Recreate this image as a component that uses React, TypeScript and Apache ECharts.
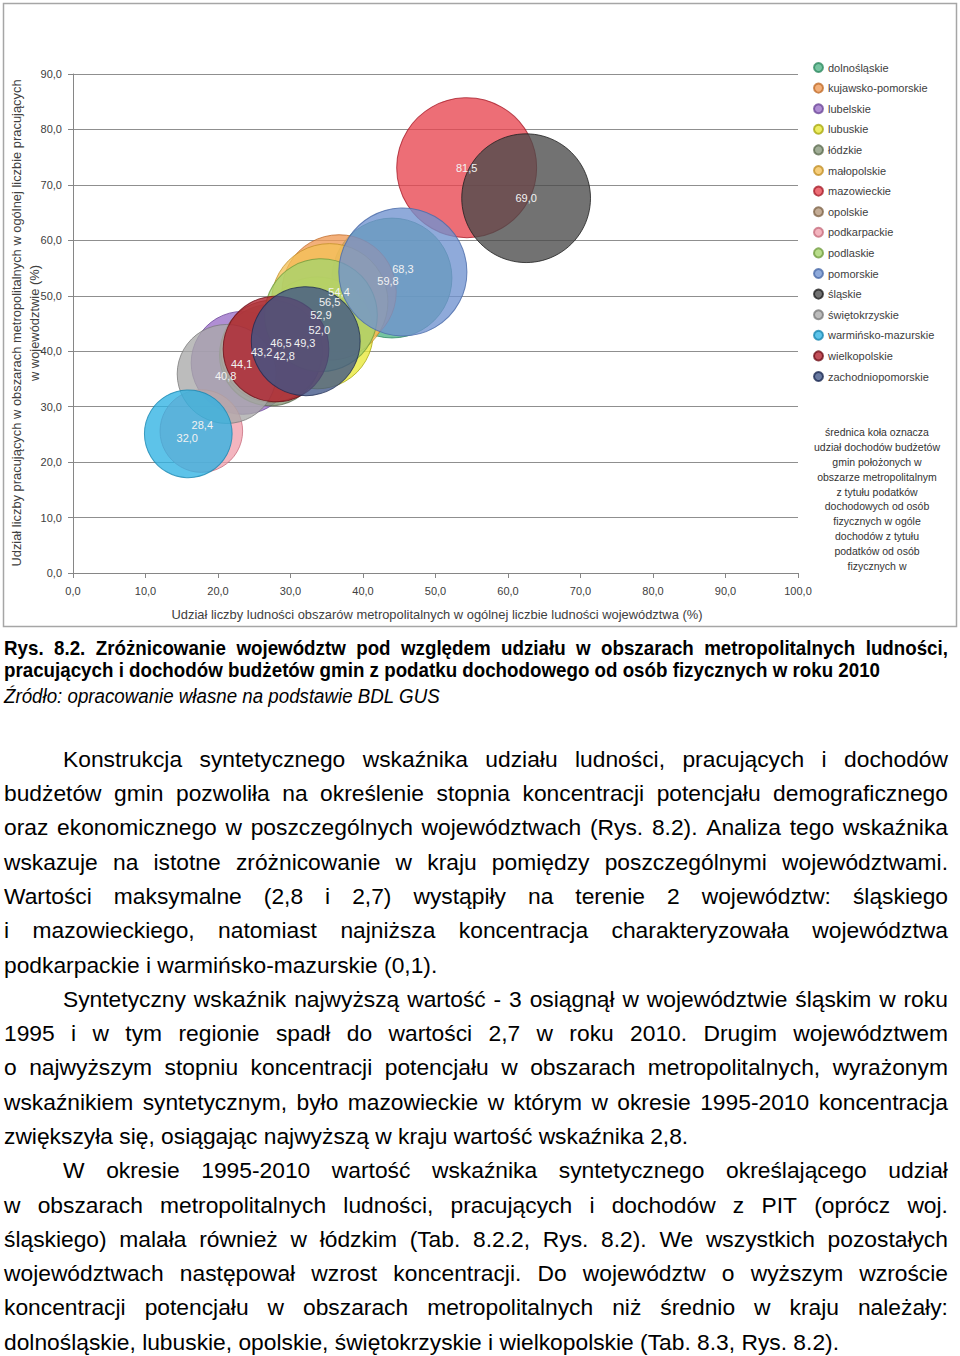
import React, { useEffect, useRef } from 'react';
import * as echarts from 'echarts';

// ---- DATA ----
const voivodeships = [
  'dolnośląskie', 'kujawsko-pomorskie', 'lubelskie', 'lubuskie', 'łódzkie', 'małopolskie',
  'mazowieckie', 'opolskie', 'podkarpackie', 'podlaskie', 'pomorskie', 'śląskie',
  'świętokrzyskie', 'warmińsko-mazurskie', 'wielkopolskie', 'zachodniopomorskie',
];
// x: share of population in metropolitan areas (%)
const populationShare = [44.0, 36.7, 23.4, 33.7, 27.2, 35.4, 54.3, 27.4, 17.7, 34.2, 45.5, 62.5, 21.2, 15.9, 28.0, 32.1];
// y: share of employed in metropolitan areas (%)
const employedShare = [53.2, 50.7, 37.9, 43.3, 39.3, 48.9, 73.1, 40.0, 25.6, 46.5, 54.3, 67.6, 35.9, 25.1, 40.4, 41.8];
// bubble size: share of PIT income of gminas in metropolitan areas (%)
const incomeShare = [59.8, 54.4, 44.1, 52.0, 42.8, 56.5, 81.5, 43.2, 28.4, 52.9, 68.3, 69.0, 40.8, 32.0, 46.5, 49.3];

const xTicks = { min: 0, max: 100, interval: 10 };
const yTicks = { min: 0, max: 90, interval: 10 };

// styles (kept apart from the data)
const fills = [
  '#4fb487', '#ef9a55', '#9a6ec8', '#e8e838', '#87977a', '#f4c057', '#e8454f', '#b3967a',
  '#f0a0ad', '#a5d36c', '#6f92d0', '#4a4a4a', '#a9a9a9', '#2fb2e3', '#b01f2c', '#3f5486',
];
const borders = [
  '#2f8a62', '#c06a28', '#6c4699', '#a8a810', '#5b6a4e', '#c28f28', '#a61e2a', '#7f6448',
  '#c76b7c', '#6f9b3c', '#4a6aa8', '#1e1e1e', '#7a7a7a', '#1785b0', '#6e0d16', '#1c2a52',
];
// small pixel nudges of the value labels so that they do not sit on top of each other
const labelNudges: [number, number][] = [
  [-4, 3], [0, 0], [-1, 1], [2, -3], [14, 1], [0, 0], [0, 0], [-10, 1],
  [1, -6], [0, 0], [0, -3], [0, 0], [-1, 2], [-1, 4], [5, -6], [-1, 2],
];

const yTitle = 'Udział liczby pracujących w obszarach metropolitalnych w ogólnej liczbie pracujących\nw województwie (%)';
const xTitle = 'Udział liczby ludności obszarów metropolitalnych w ogólnej liczbie ludności województwa (%)';
const noteText = [
  'średnica koła oznacza',
  'udział dochodów budżetów',
  'gmin położonych w',
  'obszarze metropolitalnym',
  'z tytułu podatków',
  'dochodowych od osób',
  'fizycznych w ogóle',
  'dochodów z tytułu',
  'podatków od osób',
  'fizycznych w',
];

const captionLine1 = 'Rys.  8.2.  Zróżnicowanie województw pod względem udziału w obszarach metropolitalnych ludności,';
const captionLine2 = 'pracujących i dochodów budżetów gmin z podatku dochodowego od osób fizycznych w roku 2010';
const sourceLine = 'Źródło: opracowanie własne na podstawie BDL GUS';

// [text, indent, fullJustified]
const bodyLines: [string, boolean, boolean][] = [
  ['Konstrukcja syntetycznego wskaźnika udziału ludności, pracujących i dochodów', true, true],
  ['budżetów gmin pozwoliła na określenie stopnia koncentracji potencjału demograficznego', false, true],
  ['oraz ekonomicznego w poszczególnych województwach (Rys. 8.2). Analiza tego wskaźnika', false, true],
  ['wskazuje na istotne zróżnicowanie w kraju pomiędzy poszczególnymi województwami.', false, true],
  ['Wartości maksymalne (2,8 i 2,7) wystąpiły na terenie 2 województw: śląskiego', false, true],
  ['i mazowieckiego, natomiast najniższa koncentracja charakteryzowała województwa', false, true],
  ['podkarpackie i warmińsko-mazurskie (0,1).', false, false],
  ['Syntetyczny wskaźnik najwyższą wartość - 3 osiągnął w województwie śląskim w roku', true, true],
  ['1995 i w tym regionie spadł do wartości 2,7 w roku 2010. Drugim województwem', false, true],
  ['o najwyższym stopniu koncentracji potencjału w obszarach metropolitalnych, wyrażonym', false, true],
  ['wskaźnikiem syntetycznym, było mazowieckie w którym w okresie 1995-2010 koncentracja', false, true],
  ['zwiększyła się, osiągając najwyższą w kraju wartość wskaźnika 2,8.', false, false],
  ['W okresie 1995-2010 wartość wskaźnika syntetycznego określającego udział', true, true],
  ['w obszarach metropolitalnych ludności, pracujących i dochodów z PIT (oprócz woj.', false, true],
  ['śląskiego) malała również w łódzkim (Tab. 8.2.2, Rys. 8.2). We wszystkich pozostałych', false, true],
  ['województwach następował wzrost koncentracji. Do województw o wyższym wzroście', false, true],
  ['koncentracji potencjału w obszarach metropolitalnych niż średnio w kraju należały:', false, true],
  ['dolnośląskie, lubuskie, opolskie, świętokrzyskie i wielkopolskie (Tab. 8.3, Rys. 8.2).', false, false],
];

const FONT = '"Liberation Sans", Arial, sans-serif';
const fmt = (v: number) => v.toFixed(1).replace('.', ',');

let measureCtx: CanvasRenderingContext2D | null = null;
function measure(text: string, font: string): number {
  if (!measureCtx) measureCtx = document.createElement('canvas').getContext('2d');
  if (!measureCtx) return 1;
  measureCtx.font = font;
  return measureCtx.measureText(text).width;
}

function Chart() {
  const ref = useRef<HTMLDivElement>(null);
  useEffect(() => {
    if (!ref.current) return;
    const chart = echarts.init(ref.current, undefined, { renderer: 'svg' });
    const bubbleK = 15.5;
    const series: any[] = voivodeships.map((name, i) => ({
      type: 'scatter',
      name,
      data: [[populationShare[i], employedShare[i], incomeShare[i]]],
      symbolSize: (v: number[]) => bubbleK * Math.sqrt(v[2]),
      itemStyle: { color: fills[i], borderColor: borders[i], borderWidth: 1, opacity: 0.78 },
      emphasis: { disabled: true },
      z: 2,
    }));
    series.push({
      type: 'scatter',
      name: 'etykiety',
      data: voivodeships.map((_, i) => ({
        value: [populationShare[i], employedShare[i], incomeShare[i]],
        label: { offset: labelNudges[i] },
      })),
      symbolSize: 1,
      itemStyle: { color: 'rgba(0,0,0,0)' },
      label: {
        show: true,
        position: 'inside',
        formatter: (p: any) => fmt(p.value[2]),
        color: '#f2f2f2',
        fontSize: 11,
        fontFamily: FONT,
        opacity: 1,
      },
      emphasis: { disabled: true },
      silent: true,
      z: 10,
    });

    chart.setOption({
      animation: false,
      backgroundColor: '#ffffff',
      grid: { left: 73, right: 162, top: 74, bottom: 57 },
      xAxis: {
        type: 'value',
        min: xTicks.min,
        max: xTicks.max,
        interval: xTicks.interval,
        axisLine: { show: true, lineStyle: { color: '#868686', width: 1 } },
        axisTick: { show: true, length: 5, lineStyle: { color: '#868686' } },
        axisLabel: { formatter: (v: number) => fmt(v), color: '#404040', fontSize: 11, fontFamily: FONT, margin: 12 },
        splitLine: { show: false },
      },
      yAxis: {
        type: 'value',
        min: yTicks.min,
        max: yTicks.max,
        interval: yTicks.interval,
        axisLine: { show: true, lineStyle: { color: '#868686', width: 1 } },
        axisTick: { show: true, length: 5, lineStyle: { color: '#868686' } },
        axisLabel: { formatter: (v: number) => fmt(v), color: '#404040', fontSize: 11, fontFamily: FONT, margin: 11 },
        splitLine: { show: true, lineStyle: { color: '#8f8f8f', width: 1 } },
      },
      legend: {
        data: voivodeships,
        orient: 'vertical',
        left: 808,
        top: 57,
        icon: 'circle',
        itemWidth: 9,
        itemHeight: 9,
        itemGap: 9.6,
        textStyle: { fontSize: 11, lineHeight: 11, color: '#404040', fontFamily: FONT },
        selectedMode: false,
      },
      graphic: [
        {
          type: 'rect',
          shape: { x: 3.5, y: 3.5, width: 953, height: 623 },
          style: { fill: 'none', stroke: '#a6a6a6', lineWidth: 1.5 },
          silent: true,
        },
        {
          type: 'text',
          x: 25,
          y: 323,
          rotation: Math.PI / 2,
          style: {
            text: yTitle,
            fontSize: 12.9,
            lineHeight: 18,
            fontFamily: FONT,
            fill: '#404040',
            align: 'center',
            verticalAlign: 'middle',
          },
        },
        {
          type: 'text',
          x: 437,
          y: 614,
          style: {
            text: xTitle,
            fontSize: 12.9,
            fontFamily: FONT,
            fill: '#404040',
            align: 'center',
            verticalAlign: 'middle',
          },
        },
        {
          type: 'text',
          x: 877,
          y: 424.5,
          style: {
            text: noteText.join('\n'),
            fontSize: 10.5,
            lineHeight: 14.9,
            fontFamily: FONT,
            fill: '#333333',
            align: 'center',
            verticalAlign: 'top',
          },
        },
      ],
      series,
    });
    return () => chart.dispose();
  }, []);
  return <div ref={ref} style={{ position: 'absolute', left: 0, top: 0, width: 960, height: 630 }} />;
}

function ScaledLine(props: { text: string; top: number; target: number; font: string; style: any; justify?: boolean; scale?: number }) {
  const natural = measure(props.text, props.font);
  const s = props.scale ?? props.target / natural;
  const base: any = {
    position: 'absolute',
    left: 4,
    top: props.top,
    whiteSpace: 'pre',
    transform: `scaleX(${s})`,
    transformOrigin: '0 0',
    ...props.style,
  };
  if (props.justify) {
    return (
      <div style={{ ...base, width: props.target / s, display: 'flex', justifyContent: 'space-between' }}>
        {props.text.split(/\s+/).map((w, i) => (
          <span key={i}>{w}</span>
        ))}
      </div>
    );
  }
  return <div style={base}>{props.text}</div>;
}

export default function App() {
  const capFontSize = 20.5;
  const capFont = `bold ${capFontSize}px ${FONT}`;
  const capStyle = { fontFamily: FONT, fontWeight: 'bold', fontSize: capFontSize, lineHeight: '24px', height: 24, color: '#000' };
  const capScale = 876 / measure(captionLine2, capFont);
  const srcFont = `italic ${capFontSize}px ${FONT}`;
  const srcStyle = { fontFamily: FONT, fontStyle: 'italic', fontSize: capFontSize, lineHeight: '24px', height: 24, color: '#000' };

  const bodyFontSize = 22.8;
  const lineStep = 34.28;
  return (
    <div style={{ position: 'absolute', left: 0, top: 0, width: 960, height: 1356, overflow: 'hidden', background: '#fff' }}>
      <Chart />
      <ScaledLine text={captionLine1} top={648 - 12.5} target={944} font={capFont} style={capStyle} justify scale={capScale} />
      <ScaledLine text={captionLine2} top={670 - 12.5} target={876} font={capFont} style={capStyle} />
      <ScaledLine text={sourceLine} top={696 - 12.5} target={436} font={srcFont} style={srcStyle} />
      {bodyLines.map(([text, indent, full], i) => {
        const left = indent ? 63 : 4;
        const top = 759 + i * lineStep - 17.14;
        const style: any = {
          position: 'absolute',
          left,
          top,
          width: 948 - left,
          height: lineStep,
          lineHeight: `${lineStep}px`,
          fontFamily: FONT,
          fontSize: bodyFontSize,
          color: '#000',
          whiteSpace: 'pre',
        };
        if (!full) return <div key={i} style={style}>{text}</div>;
        return (
          <div key={i} style={{ ...style, display: 'flex', justifyContent: 'space-between' }}>
            {text.split(' ').map((w, j) => (
              <span key={j}>{w}</span>
            ))}
          </div>
        );
      })}
    </div>
  );
}
